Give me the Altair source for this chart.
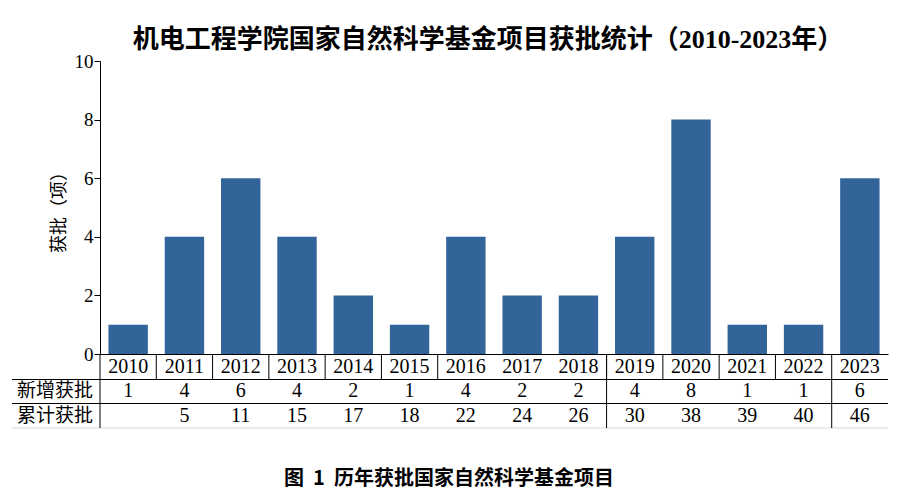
import altair as alt
import pandas as pd

years = [str(y) for y in range(2010, 2024)]
new_grants = [1, 4, 6, 4, 2, 1, 4, 2, 2, 4, 8, 1, 1, 6]
cumulative = ["", "5", "11", "15", "17", "18", "22", "24", "26", "30", "38", "39", "40", "46"]
row_labels = ["新增获批", "累计获批"]
title_text = "机电工程学院国家自然科学基金项目获批统计（2010-2023年）"
caption_text = "图\u00a0\u00a01\u00a0\u00a0历年获批国家自然科学基金项目"
y_title = "获批（项）"
# column boundaries (left edge of year) drawn in the header row only / through all rows
header_seps = ["2011", "2012", "2013", "2014", "2015", "2016", "2019", "2020", "2021", "2022"]
full_seps = ["2019", "2023"]

df = pd.DataFrame({"year": years, "new": new_grants, "cum": cumulative})

W, H = 788, 293
SERIF = "Liberation Serif, Noto Sans CJK SC"
CJK = "Noto Sans CJK SC"
BAR = "#32649a"

xscale = alt.Scale(domain=years, paddingInner=0.3, paddingOuter=0.15)

bars = alt.Chart(df).mark_bar(color=BAR).encode(
    x=alt.X("year:O", scale=xscale, sort=years,
            axis=alt.Axis(labels=False, ticks=False, title=None, domainColor="black", domainWidth=1)),
    y=alt.Y("new:Q", scale=alt.Scale(domain=[0, 10], nice=False),
            axis=alt.Axis(values=[0, 2, 4, 6, 8, 10], tickSize=6, tickColor="black", domainColor="black",
                          labelFont="Liberation Serif", labelFontSize=19, labelColor="black",
                          labelPadding=1, grid=False, title=None)),
)

txt = dict(font=SERIF, fontSize=20, color="black", baseline="middle", align="center")
year_row = alt.Chart(df).mark_text(**txt).encode(
    x=alt.X("year:O", scale=xscale, sort=years), y=alt.value(306), text="year:N")
new_row = alt.Chart(df).mark_text(**txt).encode(
    x=alt.X("year:O", scale=xscale, sort=years), y=alt.value(330), text="new:Q")
cum_row = alt.Chart(df).mark_text(**txt).encode(
    x=alt.X("year:O", scale=xscale, sort=years), y=alt.value(355), text="cum:N")

one = pd.DataFrame({"k": [0]})
lab_style = dict(font=CJK, fontSize=19, color="black", baseline="middle", align="left")
lab1 = alt.Chart(one).mark_text(text=row_labels[0], **lab_style).encode(x=alt.value(-83), y=alt.value(330))
lab2 = alt.Chart(one).mark_text(text=row_labels[1], **lab_style).encode(x=alt.value(-83), y=alt.value(355))

h1 = alt.Chart(one).mark_rule(color="black", strokeWidth=1).encode(
    x=alt.value(-88), x2=alt.value(W), y=alt.value(318.5))
h2 = alt.Chart(one).mark_rule(color="black", strokeWidth=1).encode(
    x=alt.value(-88), x2=alt.value(W), y=alt.value(342.5))
h3 = alt.Chart(one).mark_rule(color="#d8d8d8", strokeWidth=1).encode(
    x=alt.value(-88), x2=alt.value(W), y=alt.value(367))
left_line = alt.Chart(one).mark_rule(color="black", strokeWidth=1).encode(
    x=alt.value(0), y=alt.value(H), y2=alt.value(367))

step = W / 14.0
off = -0.15 * step
v_head = alt.Chart(pd.DataFrame({"year": header_seps})).mark_rule(color="black", strokeWidth=1, xOffset=off).encode(
    x=alt.X("year:O", scale=xscale, sort=years, bandPosition=0), y=alt.value(H), y2=alt.value(318.5))
v_full = alt.Chart(pd.DataFrame({"year": full_seps})).mark_rule(color="black", strokeWidth=1, xOffset=off).encode(
    x=alt.X("year:O", scale=xscale, sort=years, bandPosition=0), y=alt.value(H), y2=alt.value(367))

title = alt.Chart(one).mark_text(text=title_text, font=SERIF, fontSize=26, fontWeight="bold",
                                 color="black", baseline="middle", align="center").encode(
    x=alt.value(388), y=alt.value(-21))
ytitle = alt.Chart(one).mark_text(text=y_title, font=CJK, fontSize=18, angle=270,
                                  color="black", baseline="middle", align="center").encode(
    x=alt.value(-40), y=alt.value(147))
caption = alt.Chart(one).mark_text(text=caption_text, font=CJK, fontSize=20, fontWeight="bold",
                                   color="black", baseline="middle", align="center").encode(
    x=alt.value(349), y=alt.value(418))

chart = alt.layer(
    bars, year_row, new_row, cum_row, lab1, lab2, h1, h2, h3, left_line, v_head, v_full,
    title, ytitle, caption
).properties(
    width=W, height=H,
    autosize=alt.AutoSizeParams(type="none"),
    padding={"left": 92, "top": 53, "right": 2, "bottom": 142},
).configure(background="white").configure_view(stroke=None, strokeWidth=0)

chart.save("out.html", embed_options={"renderer": "svg", "actions": False})
